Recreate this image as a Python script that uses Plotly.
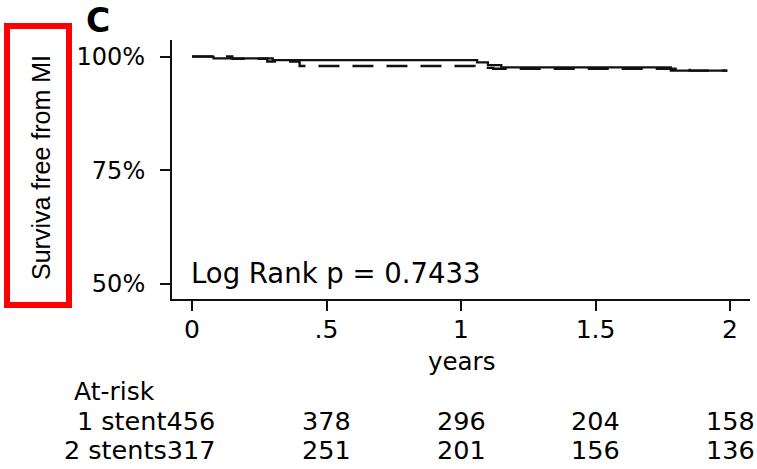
import plotly.graph_objects as go

# ---- data ----
solid_t = [0, 0.08, 0.30, 1.06, 1.10, 1.15, 1.78, 1.99]
solid_s = [100, 99.6, 99.2, 98.7, 98.1, 97.6, 96.9, 96.9]

dashed_t = [0, 0.15, 0.28, 0.40, 1.05, 1.12, 1.85, 1.99]
dashed_s = [100, 99.5, 98.9, 97.9, 97.5, 97.3, 96.9, 96.9]

x_ticks = [0, 0.5, 1, 1.5, 2]
x_tick_labels = ["0", ".5", "1", "1.5", "2"]
y_ticks = [50, 75, 100]
y_tick_labels = ["50%", "75%", "100%"]

risk_times = [0, 0.5, 1, 1.5, 2]
risk_groups = ["1 stent", "2 stents"]
risk_1 = [456, 378, 296, 204, 158]
risk_2 = [317, 251, 201, 156, 136]

pvalue_text = "Log Rank p = 0.7433"

# ---- layout geometry ----
W, H = 757, 469
L, R, T, B = 172, 750, 40, 299  # plot area in pixels


def px(xp):
    return (xp - L) / (R - L)


def py(yp):
    return (B - yp) / (B - T)


FONT = "DejaVu Sans"
INK = "#000000"

fig = go.Figure()
fig.add_trace(go.Scatter(x=solid_t, y=solid_s, mode="lines", line_shape="hv",
                         line=dict(color="#111111", width=2.2), showlegend=False))
fig.add_trace(go.Scatter(x=dashed_t, y=dashed_s, mode="lines", line_shape="hv",
                         line=dict(color="#111111", width=2.4, dash="21px,13px"),
                         showlegend=False))

ann = []
# panel letter
ann.append(dict(text="<b>C</b>", xref="paper", yref="paper", x=px(98), y=py(21),
                xanchor="center", yanchor="middle", showarrow=False,
                font=dict(family="DejaVu Sans", size=33, color="#000")))
# y title
ann.append(dict(text="Surviva free from MI", xref="paper", yref="paper",
                x=px(41), y=py(168), textangle=-90, xanchor="center", yanchor="middle",
                showarrow=False, font=dict(family="Liberation Sans", size=25, color=INK)))
# x title
ann.append(dict(text="years", xref="paper", yref="paper", x=px(461), y=py(361),
                xanchor="center", yanchor="middle", showarrow=False,
                font=dict(family=FONT, size=24.5, color=INK)))
# log rank
ann.append(dict(text=pvalue_text, xref="paper", yref="paper", x=px(189), y=py(273),
                xanchor="left", yanchor="middle", showarrow=False,
                font=dict(family=FONT, size=27.5, color=INK)))
# at-risk table
ann.append(dict(text="At-risk", xref="paper", yref="paper", x=px(72), y=py(391),
                xanchor="left", yanchor="middle", showarrow=False,
                font=dict(family=FONT, size=25, color=INK)))
for grp, vals, yc in [(risk_groups[0], risk_1, 421), (risk_groups[1], risk_2, 450)]:
    ann.append(dict(text=f"{grp}{vals[0]}", xref="x", yref="paper", x=risk_times[0],
                    xshift=25, y=py(yc), xanchor="right", yanchor="middle",
                    showarrow=False, font=dict(family=FONT, size=25.5, color=INK)))
    for t, v in zip(risk_times[1:], vals[1:]):
        ann.append(dict(text=str(v), xref="x", yref="paper", x=t, y=py(yc),
                        xanchor="center", yanchor="middle", showarrow=False,
                        font=dict(family=FONT, size=25.5, color=INK)))

shapes = [dict(type="rect", xref="paper", yref="paper",
               x0=px(7), x1=px(69), y0=py(305), y1=py(26),
               line=dict(color="#ff0000", width=6), fillcolor="rgba(0,0,0,0)")]

fig.update_layout(
    width=W, height=H,
    margin=dict(l=L, r=W - R, t=T, b=H - B, pad=0),
    paper_bgcolor="white", plot_bgcolor="white",
    annotations=ann, shapes=shapes,
    xaxis=dict(range=[(L - 192) / 269, (R - 192) / 269], tickvals=x_ticks,
               ticktext=x_tick_labels, ticks="outside", ticklen=10, tickwidth=2,
               tickcolor="#111", showline=True, linecolor="#111", linewidth=2,
               showgrid=False, zeroline=False, ticklabelstandoff=-3,
               tickfont=dict(family=FONT, size=25, color=INK)),
    yaxis=dict(range=[50 - (B - 284) / 4.55, 100 + (56.5 - T) / 4.55],
               tickvals=y_ticks, ticktext=y_tick_labels, ticks="outside",
               ticklen=10, tickwidth=2, tickcolor="#111", showline=True,
               linecolor="#111", linewidth=2, showgrid=False, zeroline=False,
               ticklabelstandoff=10, tickfont=dict(family=FONT, size=24, color=INK)),
)

fig.write_html("out.html")
